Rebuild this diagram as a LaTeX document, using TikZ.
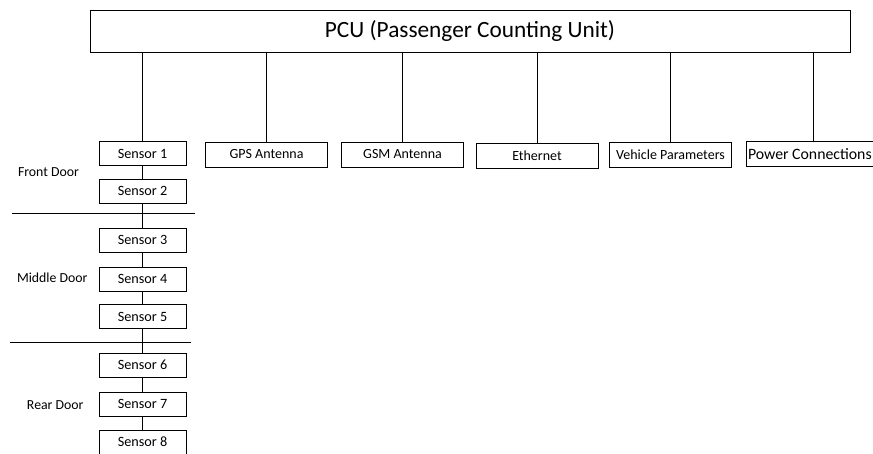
\documentclass[tikz,border=0pt]{standalone}
\usepackage{fontspec}
\setmainfont{Carlito}
\begin{document}
\begin{tikzpicture}[x=1pt,y=-1pt,inner sep=0pt,outer sep=0pt,line width=0.8pt,
unitblock/.style={draw,rectangle,minimum width=760pt,minimum height=42pt,font=\fontsize{23.3}{27}\selectfont},
sensorblock/.style={draw,rectangle,minimum width=87pt,minimum height=24pt,font=\fontsize{14.2}{17}\selectfont},
portblock/.style={draw,rectangle,minimum width=122pt,minimum height=25pt,font=\fontsize{14}{17}\selectfont},
doorlabel/.style={anchor=west,font=\fontsize{13.8}{16}\selectfont}]
\useasboundingbox (0,0) rectangle (873,453);
\node[unitblock] (PCU) at (470,31) {PCU (Passenger Counting Unit)};
% sensors
\node[sensorblock] (S1) at (142.5,153.5) {Sensor 1};
\node[sensorblock] (S2) at (142.5,191) {Sensor 2};
\node[sensorblock] (S3) at (142.5,240) {Sensor 3};
\node[sensorblock] (S4) at (142.5,279) {Sensor 4};
\node[sensorblock] (S5) at (142.5,316.5) {Sensor 5};
\node[sensorblock] (S6) at (142.5,365) {Sensor 6};
\node[sensorblock] (S7) at (142.5,404) {Sensor 7};
\node[sensorblock] (S8) at (142.5,442) {Sensor 8};
% ports
\node[portblock] (GPS) at (266.5,154.5) {GPS Antenna};
\node[portblock] (GSM) at (402.5,154.5) {GSM Antenna};
\node[portblock] (ETH) at (537,155.5) {Ethernet};
\node[portblock] (VEH) at (670.5,154.5) {Vehicle Parameters};
\node[portblock,text width=131pt,align=flush left,inner xsep=2pt,font=\fontsize{15.8}{19}\selectfont] (PWR) at (813.5,154) {Power Connections};
% doors
\node[doorlabel] (FD) at (18,172) {Front Door};
\node[doorlabel] (MD) at (17,278) {Middle Door};
\node[doorlabel] (RD) at (27,405) {Rear Door};
\draw (12,213) -- (195,213);
\draw (10,342) -- (191,342);
\foreach \p in {S1,GPS,GSM,ETH,VEH,PWR}
  \draw (\p.north |- PCU.south) -- (\p.north);
\foreach \a/\b in {S1/S2,S2/S3,S3/S4,S4/S5,S5/S6,S6/S7,S7/S8}
  \draw (\a) -- (\b);
\end{tikzpicture}
\end{document}
